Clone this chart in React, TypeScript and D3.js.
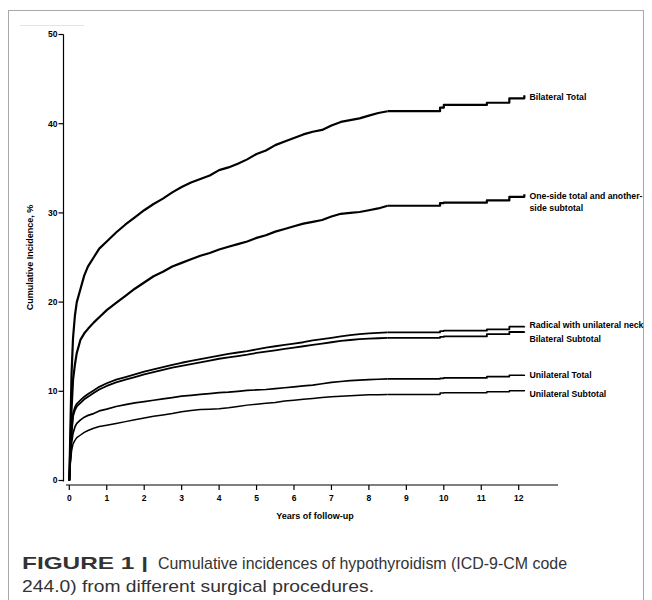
import React from 'react';
import * as d3 from 'd3';

// follow-up times (years) shared by all curves
const years = [
  0, 0.03, 0.06, 0.1, 0.15, 0.2, 0.3, 0.4, 0.5, 0.65, 0.8,
  1, 1.25, 1.5, 1.75, 2, 2.25, 2.5, 2.75, 3, 3.25, 3.5, 3.75, 4, 4.25, 4.5, 4.75,
  5, 5.25, 5.5, 5.75, 6, 6.25, 6.5, 6.75, 7, 7.25, 7.5, 7.75, 8, 8.25, 8.5,
  9.9, 10, 11.15, 11.75, 12.15,
];
// after this time the curves are drawn as plain steps
const stepFrom = 8.5;

const bilateralTotal = [
  0, 6, 12, 16, 18.5, 20, 21.5, 23, 24, 25, 26,
  26.8, 27.8, 28.7, 29.5, 30.3, 31, 31.6, 32.3, 32.9, 33.4, 33.8, 34.2, 34.8, 35.1, 35.5, 36.0,
  36.6, 37.0, 37.6, 38.0, 38.4, 38.8, 39.1, 39.3, 39.8, 40.2, 40.4, 40.6, 40.9, 41.2, 41.4,
  41.8, 42.1, 42.35, 42.85, 43.2,
];
const oneSideTotal = [
  0, 4, 8, 11.3, 13, 14.3, 15.8, 16.5, 17, 17.7, 18.3,
  19.1, 19.9, 20.7, 21.5, 22.2, 22.9, 23.4, 24.0, 24.4, 24.8, 25.2, 25.5, 25.9, 26.2, 26.5, 26.8,
  27.2, 27.5, 27.9, 28.2, 28.5, 28.8, 29.0, 29.2, 29.6, 29.9, 30.0, 30.1, 30.3, 30.5, 30.8,
  31.1, 31.15, 31.4, 31.8, 32.1,
];
const radicalNeck = [
  0, 3, 5.5, 7.5, 8.2, 8.6, 9.0, 9.4, 9.7, 10.1, 10.5,
  10.9, 11.3, 11.6, 11.9, 12.2, 12.45, 12.7, 12.95, 13.2, 13.4, 13.6, 13.8, 14.0, 14.2, 14.35, 14.5,
  14.7, 14.9, 15.05, 15.2, 15.35, 15.5, 15.7, 15.85, 16.0, 16.15, 16.3, 16.4, 16.5, 16.55, 16.6,
  16.75, 16.8, 16.95, 17.25, 17.3,
];
const bilateralSubtotal = [
  0, 2.8, 5.2, 7.2, 7.9, 8.3, 8.7, 9.1, 9.4, 9.8, 10.2,
  10.6, 11.0, 11.3, 11.6, 11.9, 12.15, 12.4, 12.65, 12.85, 13.05, 13.25, 13.45, 13.65, 13.8, 13.95, 14.1,
  14.3, 14.45, 14.6, 14.75, 14.9, 15.05, 15.2, 15.35, 15.5, 15.65, 15.75, 15.85, 15.9, 15.95, 16.0,
  16.1, 16.15, 16.4, 16.65, 16.7,
];
const unilateralTotal = [
  0, 2.5, 4.2, 5.3, 6.0, 6.4, 6.8, 7.1, 7.3, 7.5, 7.8,
  8.0, 8.3, 8.5, 8.7, 8.85, 9.0, 9.15, 9.3, 9.45, 9.55, 9.65, 9.75, 9.85, 9.9, 10.0, 10.1,
  10.15, 10.2, 10.3, 10.4, 10.5, 10.6, 10.7, 10.85, 11.0, 11.1, 11.2, 11.25, 11.3, 11.35, 11.4,
  11.45, 11.5, 11.65, 11.8, 11.85,
];
const unilateralSubtotal = [
  0, 2.0, 3.3, 4.1, 4.5, 4.8, 5.1, 5.4, 5.6, 5.85, 6.05,
  6.2, 6.4, 6.6, 6.8, 7.0, 7.2, 7.35, 7.5, 7.7, 7.85, 7.95, 8.0, 8.05, 8.15, 8.3, 8.45,
  8.55, 8.65, 8.75, 8.9, 9.0, 9.1, 9.2, 9.3, 9.4, 9.45, 9.5, 9.55, 9.6, 9.62, 9.65,
  9.8, 9.85, 9.95, 10.05, 10.15,
];

const seriesNames = [
  'Bilateral Total',
  'One-side total and another-|side subtotal',
  'Radical with unilateral neck',
  'Bilateral Subtotal',
  'Unilateral Total',
  'Unilateral Subtotal',
];
const seriesValues = [
  bilateralTotal, oneSideTotal, radicalNeck, bilateralSubtotal, unilateralTotal, unilateralSubtotal,
];

const xTicks = [0, 1, 2, 3, 4, 5, 6, 7, 8, 9, 10, 11, 12];
const yTicks = [0, 10, 20, 30, 40, 50];

const captionBold = 'FIGURE 1 |';
const captionLine1 = 'Cumulative incidences of hypothyroidism (ICD-9-CM code';
const captionLine2 = '244.0) from different surgical procedures.';

export default function App() {
  const width = 652;
  const height = 600;

  const x = d3.scaleLinear().domain([0, 12]).range([69.3, 518.7]);
  const y = d3.scaleLinear().domain([0, 50]).range([480.5, 34.5]);

  const smooth = d3
    .line<[number, number]>()
    .x((d) => x(d[0]))
    .y((d) => y(d[1]));
  const steps = d3
    .line<[number, number]>()
    .x((d) => x(d[0]))
    .y((d) => y(d[1]))
    .curve(d3.curveStepAfter);

  // label nudges so the near curves don't overlap
  const labelDy = [2, 2, -1, 7, 0, 4];
  const strokeW = [2.2, 2.2, 1.8, 1.8, 1.7, 1.5];

  const font = 'Liberation Sans, Arial, sans-serif';
  const axisX0 = 63.5;
  const xAxisY = 485;

  return (
    <svg width={width} height={height} style={{ position: 'absolute', left: 0, top: 0 }}>
      <rect x={8.5} y={10.5} width={635} height={620} fill="#fff" stroke="#a8a8a8" strokeWidth={1} />
      <line x1={20} x2={84} y1={25.5} y2={25.5} stroke="#e4e4e4" />

      {/* y axis */}
      <g fontFamily={font} fontWeight="bold" fontSize={8.5} fill="#000">
        <line x1={axisX0} x2={axisX0} y1={y(50)} y2={y(0) + 1} stroke="#000" strokeWidth={1.2} />
        {yTicks.map((t) => (
          <g key={t}>
            <line x1={axisX0 - 5} x2={axisX0} y1={y(t)} y2={y(t)} stroke="#000" strokeWidth={1.2} />
            <text x={axisX0 - 6} y={y(t)} dy="0.35em" textAnchor="end">{t}</text>
          </g>
        ))}
        <text
          transform={`translate(30,${(y(0) + y(50)) / 2}) rotate(-90)`}
          textAnchor="middle"
          dy="0.35em"
          fontSize={9}
        >
          Cumulative Incidence, %
        </text>
      </g>

      {/* x axis */}
      <g fontFamily={font} fontWeight="bold" fontSize={8.5} fill="#000">
        <line x1={66} x2={558} y1={xAxisY} y2={xAxisY} stroke="#000" strokeWidth={1.2} />
        {xTicks.map((t) => (
          <g key={t}>
            <line x1={x(t)} x2={x(t)} y1={xAxisY} y2={xAxisY + 5} stroke="#000" strokeWidth={1.2} />
            <text x={x(t)} y={xAxisY + 13} dy="0.35em" textAnchor="middle">{t}</text>
          </g>
        ))}
        <text x={315} y={516} dy="0.35em" textAnchor="middle" fontSize={9}>
          Years of follow-up
        </text>
      </g>

      {/* curves: smooth-looking early part, plain steps in the tail */}
      {seriesValues.map((vals, i) => {
        const pts = years.map((t, j) => [t, vals[j]] as [number, number]);
        const head = pts.filter((p) => p[0] <= stepFrom);
        const tail = pts.filter((p) => p[0] >= stepFrom);
        return (
          <g key={i} fill="none" stroke="#000" strokeWidth={strokeW[i]} strokeLinejoin="round">
            <path d={smooth(head) || ''} />
            <path d={steps(tail) || ''} />
          </g>
        );
      })}

      {/* end labels */}
      <g fontFamily={font} fontWeight="bold" fontSize={8.7} fill="#000">
        {seriesNames.map((name, i) => {
          const vals = seriesValues[i];
          const ly = y(vals[vals.length - 1]) + labelDy[i];
          return name.split('|').map((part, k) => (
            <text key={i + '-' + k} x={529.5} y={ly + k * 11.5} dy="0.35em">{part}</text>
          ));
        })}
      </g>

      {/* caption */}
      <g fontFamily={font} fontSize={17} fill="#333">
        <text x={22} y={569} fontWeight="bold" textLength={126} lengthAdjust="spacingAndGlyphs">
          {captionBold}
        </text>
        <text x={158} y={569} textLength={409} lengthAdjust="spacingAndGlyphs">{captionLine1}</text>
        <text x={22} y={592} textLength={352} lengthAdjust="spacingAndGlyphs">{captionLine2}</text>
      </g>
    </svg>
  );
}
